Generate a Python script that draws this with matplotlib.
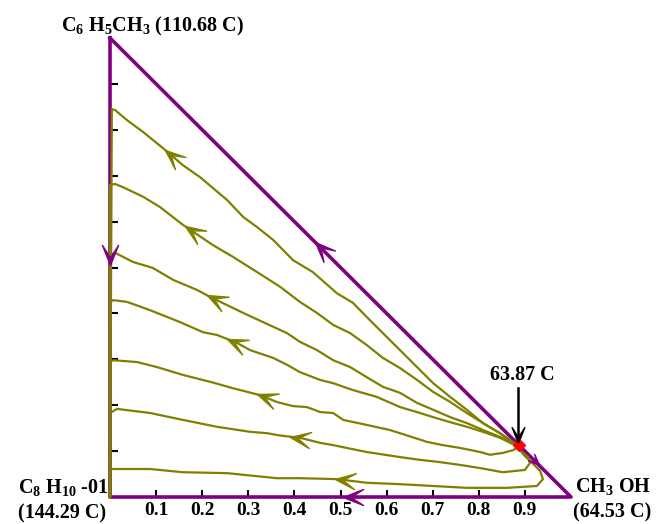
import numpy as np
import matplotlib
matplotlib.use("Agg")
import matplotlib.pyplot as plt
from matplotlib.path import Path
from matplotlib.markers import MarkerStyle
from matplotlib.transforms import Affine2D

plt.rcParams['font.family'] = ['Liberation Serif', 'DejaVu Serif']
plt.rcParams['mathtext.fontset'] = 'custom'
plt.rcParams['mathtext.rm'] = 'Liberation Serif:bold'
plt.rcParams['mathtext.bf'] = 'Liberation Serif:bold'
plt.rcParams['mathtext.it'] = 'Liberation Serif:bold:italic'

# residue curves: x = CH3OH, y = C6H5CH3 mole fraction, from the C8H10-01 edge to the azeotrope
c1_x = [0.004, 0.011, 0.037, 0.072, 0.115, 0.158, 0.195, 0.254, 0.289, 0.319, 0.354, 0.397, 0.440,
        0.492, 0.527, 0.557, 0.592, 0.629, 0.666, 0.701, 0.738, 0.774, 0.809, 0.846, 0.874, 0.885]
c1_y = [0.845, 0.843, 0.821, 0.795, 0.760, 0.723, 0.697, 0.647, 0.610, 0.588, 0.560, 0.516, 0.490,
        0.444, 0.423, 0.392, 0.357, 0.320, 0.283, 0.248, 0.218, 0.190, 0.161, 0.139, 0.120, 0.111]
c2_x = [0.000, 0.011, 0.028, 0.072, 0.108, 0.158, 0.223, 0.267, 0.319, 0.369, 0.412, 0.449, 0.484,
        0.521, 0.557, 0.592, 0.629, 0.666, 0.701, 0.738, 0.774, 0.809, 0.846, 0.874, 0.885]
c2_y = [0.680, 0.682, 0.675, 0.654, 0.632, 0.593, 0.549, 0.523, 0.490, 0.458, 0.425, 0.401, 0.375,
        0.357, 0.331, 0.303, 0.281, 0.255, 0.229, 0.207, 0.183, 0.161, 0.139, 0.118, 0.111]
c3_x = [0.000, 0.011, 0.050, 0.093, 0.137, 0.189, 0.217, 0.289, 0.332, 0.384, 0.412, 0.449, 0.484,
        0.521, 0.557, 0.592, 0.629, 0.666, 0.701, 0.738, 0.774, 0.809, 0.846, 0.874, 0.885]
c3_y = [0.527, 0.532, 0.512, 0.499, 0.473, 0.451, 0.436, 0.401, 0.381, 0.357, 0.338, 0.320, 0.298,
        0.283, 0.261, 0.240, 0.227, 0.205, 0.190, 0.174, 0.161, 0.146, 0.131, 0.118, 0.111]
c4_x = [0.000, 0.007, 0.037, 0.087, 0.152, 0.202, 0.232, 0.275, 0.304, 0.354, 0.384, 0.412, 0.456,
        0.484, 0.527, 0.579, 0.629, 0.666, 0.701, 0.738, 0.774, 0.809, 0.846, 0.874, 0.885]
c4_y = [0.425, 0.429, 0.425, 0.407, 0.381, 0.359, 0.353, 0.336, 0.320, 0.303, 0.288, 0.272, 0.255,
        0.248, 0.233, 0.218, 0.196, 0.185, 0.174, 0.163, 0.153, 0.142, 0.129, 0.115, 0.111]
c5_x = [0.000, 0.007, 0.059, 0.102, 0.158, 0.217, 0.267, 0.325, 0.362, 0.397, 0.427, 0.456, 0.484,
        0.506, 0.557, 0.607, 0.629, 0.688, 0.722, 0.759, 0.803, 0.824, 0.852, 0.874, 0.885]
c5_y = [0.294, 0.298, 0.294, 0.283, 0.266, 0.251, 0.237, 0.222, 0.207, 0.198, 0.196, 0.185, 0.183,
        0.168, 0.157, 0.146, 0.139, 0.120, 0.113, 0.107, 0.098, 0.092, 0.096, 0.102, 0.109]
c6_x = [0.000, 0.015, 0.087, 0.158, 0.232, 0.304, 0.341, 0.369, 0.412, 0.456, 0.484, 0.557, 0.629,
        0.672, 0.716, 0.759, 0.803, 0.852, 0.900, 0.911, 0.907, 0.894, 0.885]
c6_y = [0.183, 0.192, 0.183, 0.168, 0.153, 0.142, 0.139, 0.134, 0.129, 0.118, 0.113, 0.098, 0.087,
        0.081, 0.076, 0.070, 0.063, 0.054, 0.059, 0.074, 0.087, 0.098, 0.107]
c7_x = [0.000, 0.087, 0.158, 0.254, 0.362, 0.412, 0.492, 0.557, 0.629, 0.701, 0.774, 0.861, 0.926,
        0.939, 0.933, 0.918, 0.900, 0.885]
c7_y = [0.061, 0.061, 0.054, 0.052, 0.041, 0.041, 0.039, 0.031, 0.028, 0.024, 0.020, 0.020, 0.024,
        0.039, 0.057, 0.072, 0.089, 0.107]

curves_x = [c1_x, c2_x, c3_x, c4_x, c5_x, c6_x, c7_x]
curves_y = [c1_y, c2_y, c3_y, c4_y, c5_y, c6_y, c7_y]
arrow_x = [0.119, 0.163, 0.210, 0.254, 0.319, 0.390, 0.488]   # where the direction arrows sit

azeo_x, azeo_y = 0.887, 0.113
azeo_label = '63.87 C'
ticks = [0.1, 0.2, 0.3, 0.4, 0.5, 0.6, 0.7, 0.8, 0.9]

PURPLE = '#800080'
OLIVE = '#808000'

# barbed arrow head, tip at the origin, pointing along +x
HEAD = Path([(0, 0), (-1, 0.40), (-0.38, 0), (-1, -0.40), (0, 0)],
            [Path.MOVETO, Path.LINETO, Path.LINETO, Path.LINETO, Path.CLOSEPOLY])


def head(ax, x, y, dx, dy, color, size=29):
    ang = np.degrees(np.arctan2(dy, dx))
    m = MarkerStyle(HEAD, transform=Affine2D().rotate_deg(ang))
    ax.plot([x], [y], marker=m, ms=size, color=color, mec=color, mew=1.0,
            ls='none', clip_on=False, zorder=4)


fig = plt.figure(figsize=(6.58, 5.24), dpi=100)
ax = fig.add_axes([0.1672, 0.0515, 0.7006, 0.876])
ax.set_xlim(0, 1)
ax.set_ylim(0, 1)
for s in ax.spines.values():
    s.set_visible(False)

# triangle edges (binary mixtures)
ax.plot([0, 1, 0, 0], [1, 0, 0, 1], color=PURPLE, lw=2.6, clip_on=False, zorder=2)
head(ax, 0.445, 0.555, -1, 1, PURPLE)
head(ax, 0.0, 0.505, 0, -1, PURPLE)
head(ax, 0.505, 0.0, -1, 0, PURPLE)
head(ax, 0.93, 0.07, 1, -1, PURPLE, size=16)

# residue curves, each running on down the x = 0 edge to the C8H10-01 vertex
for cx, cy, a in zip(curves_x, curves_y, arrow_x):
    ax.plot([0] + cx, [0] + cy, color=OLIVE, lw=1.6, clip_on=False, zorder=3)
    i_max = int(np.argmax(cx))
    xs, ys = np.array(cx[:i_max + 1]), np.array(cy[:i_max + 1])
    ty = np.interp(a, xs, ys)
    by = np.interp(a + 0.03, xs, ys)
    head(ax, a, ty, -0.03, ty - by, OLIVE)

# azeotrope
ax.plot([azeo_x], [azeo_y], marker='D', ms=6, color='red', mec='red', zorder=5, clip_on=False)
ax.plot([azeo_x - 0.002, azeo_x - 0.002], [0.237, azeo_y + 0.01], color='black', lw=1.8, zorder=6)
head(ax, azeo_x - 0.002, azeo_y + 0.004, 0, -1, 'black', size=23)
ax.text(0.894, 0.266, azeo_label, ha='center', va='center', fontsize=14.5, fontweight='bold')

# vertex labels
ax.text(0.093, 1.015, r'$\mathrm{C_6\ H_5CH_3}$ (110.68 C)', ha='center', va='baseline',
        fontsize=14.5, fontweight='bold')
ax.text(-0.2, 0.009, r'$\mathrm{C_8\ H_{10}}$ -01', ha='left', va='baseline',
        fontsize=14.5, fontweight='bold')
ax.text(-0.2, -0.046, '(144.29 C)', ha='left', va='baseline', fontsize=14.5, fontweight='bold')
ax.text(1.009, 0.011, r'$\mathrm{CH_3\ OH}$', ha='left', va='baseline',
        fontsize=14.5, fontweight='bold')
ax.text(1.004, -0.044, '(64.53 C)', ha='left', va='baseline', fontsize=14.5, fontweight='bold')

ax.set_xticks(ticks)
ax.set_xticklabels([f'{t:.1f}' for t in ticks], fontsize=14, fontweight='bold')
ax.set_yticks(ticks)
ax.set_yticklabels([])
ax.tick_params(axis='x', direction='in', length=5, width=1.5, pad=3.5)
ax.tick_params(axis='y', direction='in', length=6, width=1.5)

fig.savefig('out.png', dpi=100)
